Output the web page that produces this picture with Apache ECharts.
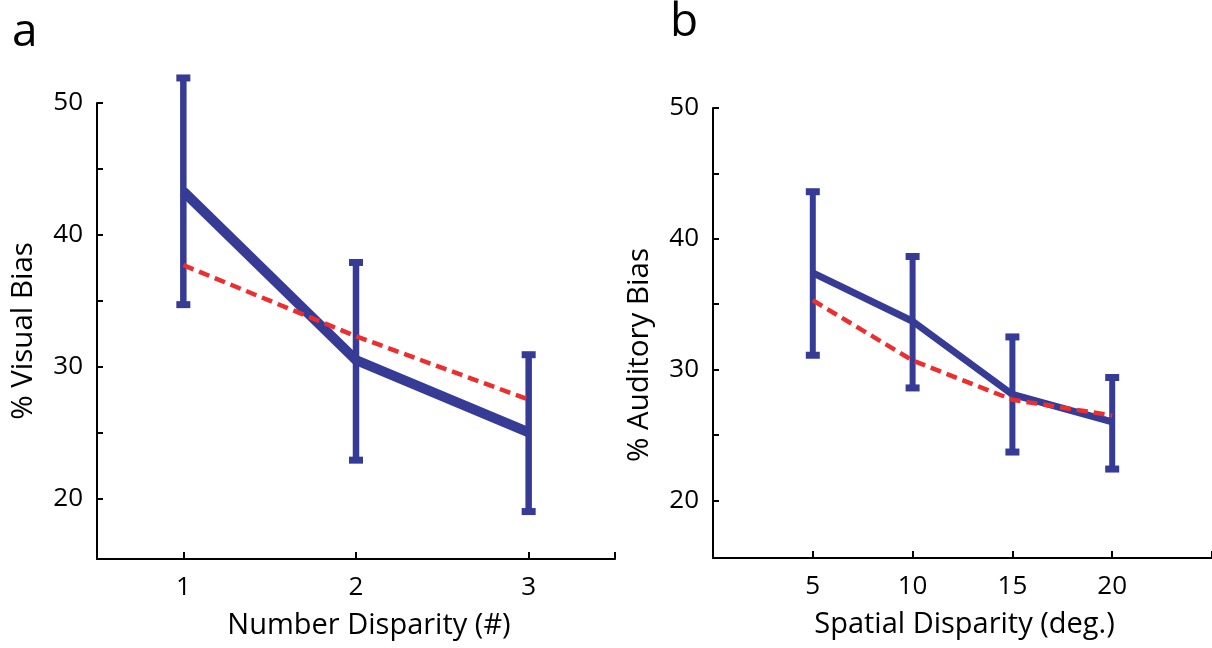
<!DOCTYPE html>
<html>
<head>
<meta charset="utf-8">
<script src="https://cdn.jsdelivr.net/npm/echarts@6/dist/echarts.min.js"></script>
<style>
  html, body { margin: 0; padding: 0; background: #fff; }
  #chart { width: 1212px; height: 648px; }
</style>
</head>
<body>
<div id="chart"></div>
<script>
// panel a: visual bias vs number disparity
const visX = [1, 2, 3];
const visMean = [43.3, 30.5, 25.0];
const visUpper = [51.9, 37.9, 30.9];
const visLower = [34.7, 22.9, 19.0];
const visModel = [37.7, 32.3, 27.5];

// panel b: auditory bias vs spatial disparity
const audX = [5, 10, 15, 20];
const audMean = [37.4, 33.7, 28.1, 26.0];
const audUpper = [43.6, 38.65, 32.5, 29.4];
const audLower = [31.1, 28.6, 23.7, 22.4];
const audModel = [35.3, 30.7, 27.7, 26.5];

const yTicks = [20, 25, 30, 35, 40, 45, 50];
const yLabels = [20, 30, 40, 50];

const BLUE = '#363b96';
const RED = '#ec2e2e';
const FONT = 'Open Sans';

function pairs(xs, ys) {
  return xs.map(function (x, i) { return [x, ys[i]]; });
}
function bars(xs, hi, lo) {
  return xs.map(function (x, i) { return [x, hi[i], lo[i]]; });
}

function errRender(stemW, capW, capH) {
  return function (params, api) {
    let top = api.coord([api.value(0), api.value(1)]);
    let bot = api.coord([api.value(0), api.value(2)]);
    let st = { fill: BLUE };
    return {
      type: 'group',
      children: [
        { type: 'rect', shape: { x: top[0] - stemW / 2, y: top[1], width: stemW, height: bot[1] - top[1] }, style: st },
        { type: 'rect', shape: { x: top[0] - capW / 2, y: top[1] - capH / 2, width: capW, height: capH }, style: st },
        { type: 'rect', shape: { x: bot[0] - capW / 2, y: bot[1] - capH / 2, width: capW, height: capH }, style: st }
      ]
    };
  };
}

function xAxisCfg(idx, min, max, ticks, labels, name, pad) {
  return {
    type: 'value', gridIndex: idx, min: min, max: max,
    name: name, nameLocation: 'middle', nameGap: 52,
    nameTextStyle: { fontFamily: FONT, fontSize: 29, color: '#000', padding: pad },
    axisLine: { lineStyle: { color: '#000', width: 2 } },
    axisTick: { inside: true, length: 7, lineStyle: { color: '#000', width: 2 }, customValues: ticks },
    axisLabel: { fontFamily: FONT, fontSize: 26, color: '#000', margin: 16, customValues: labels },
    splitLine: { show: false }
  };
}

function yAxisCfg(idx, min, name, gap, pad) {
  return {
    type: 'value', gridIndex: idx, min: min, max: 50,
    name: name, nameLocation: 'middle', nameGap: gap, nameRotate: 90,
    nameTextStyle: { fontFamily: FONT, fontSize: 29.5, color: '#000', padding: pad },
    axisLine: { lineStyle: { color: '#000', width: 2 } },
    axisTick: { inside: true, length: 6, lineStyle: { color: '#000', width: 2 }, customValues: yTicks },
    axisLabel: { fontFamily: FONT, fontSize: 26, color: '#000', margin: 14, customValues: yLabels },
    splitLine: { show: false }
  };
}

const chart = echarts.init(document.getElementById('chart'));
chart.setOption({
  backgroundColor: '#fff',
  animation: false,
  grid: [
    { left: 97, top: 103, width: 518, height: 456 },
    { left: 713, top: 108, width: 500, height: 450 }
  ],
  xAxis: [
    xAxisCfg(0, 0.5, 3.5, [1, 2, 3, 3.5], [1, 2, 3], 'Number Disparity (#)', [0, 0, 0, 26]),
    xAxisCfg(1, 0, 25, [5, 10, 15, 20, 25], [5, 10, 15, 20], 'Spatial Disparity (deg.)', [0, 0, 0, 4])
  ],
  yAxis: [
    yAxisCfg(0, 15.4, '% Visual Bias', 58, [0, 0, 0, 0]),
    yAxisCfg(1, 15.6, '% Auditory Bias', 58, [0, 44, 0, 0])
  ],
  graphic: [
    { type: 'text', left: 12, top: 10, style: { text: 'a', fontFamily: FONT, fontSize: 46, fill: '#000' } },
    { type: 'text', left: 670, top: 0, style: { text: 'b', fontFamily: FONT, fontSize: 46, fill: '#000' } }
  ],
  series: [
    { type: 'line', xAxisIndex: 0, yAxisIndex: 0, data: pairs(visX, visMean), symbol: 'none',
      lineStyle: { color: BLUE, width: 10, join: 'miter' }, z: 2 },
    { type: 'custom', xAxisIndex: 0, yAxisIndex: 0, data: bars(visX, visUpper, visLower),
      renderItem: errRender(6.5, 14, 7), z: 3 },
    { type: 'line', xAxisIndex: 0, yAxisIndex: 0, data: pairs(visX, visModel), symbol: 'none',
      lineStyle: { color: RED, width: 4.5, type: [11, 6] }, z: 4 },

    { type: 'line', xAxisIndex: 1, yAxisIndex: 1, data: pairs(audX, audMean), symbol: 'none',
      lineStyle: { color: BLUE, width: 7 }, z: 2 },
    { type: 'custom', xAxisIndex: 1, yAxisIndex: 1, data: bars(audX, audUpper, audLower),
      renderItem: errRender(6, 14, 7), z: 3 },
    { type: 'line', xAxisIndex: 1, yAxisIndex: 1, data: pairs(audX, audModel), symbol: 'none',
      lineStyle: { color: RED, width: 4.5, type: [11, 6] }, z: 4 }
  ]
});
</script>
</body>
</html>
